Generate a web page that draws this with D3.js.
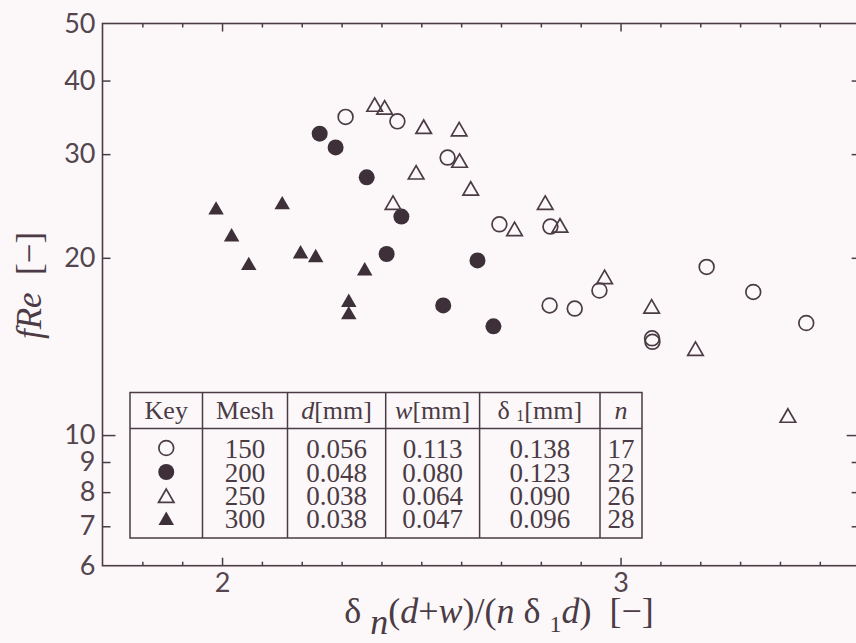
<!DOCTYPE html>
<html>
<head>
<meta charset="utf-8">
<script src="https://cdn.jsdelivr.net/npm/d3@7"></script>
<style>
  html, body { margin: 0; padding: 0; background: #fcf8fa; }
  svg { display: block; }
</style>
</head>
<body>
<svg id="chart" width="856" height="643"></svg>
<script>
// Friction factor fRe against the screen parameter, one series per mesh size
const mesh150 = [
  [2.310, 34.7], [2.440, 34.1], [2.566, 29.6], [2.696, 22.8], [2.824, 22.6],
  [2.822, 16.6], [2.885, 16.4], [2.947, 17.6], [3.216, 19.3], [3.333, 17.5],
  [3.466, 15.5], [3.079, 14.6], [3.080, 14.4]
];
const mesh200 = [
  [2.245, 32.5], [2.285, 30.8], [2.363, 27.4], [2.450, 23.5],
  [2.413, 20.3], [2.641, 19.8], [2.555, 16.6], [2.681, 15.3]
];
const mesh250 = [
  [2.383, 36.1], [2.408, 35.7], [2.506, 33.1], [2.595, 32.8], [2.596, 29.0],
  [2.487, 27.7], [2.624, 26.0], [2.429, 24.6], [2.811, 24.6], [2.734, 22.2],
  [2.848, 22.5], [2.960, 18.4], [3.078, 16.4], [3.188, 13.9], [3.420, 10.7]
];
const mesh300 = [
  [1.985, 24.1], [2.151, 24.6], [2.024, 21.7], [2.067, 19.4], [2.197, 20.3],
  [2.235, 20.0], [2.358, 19.0], [2.318, 16.8], [2.318, 16.0]
];

// Axis ticks
const xMajorTicks = [2, 3];
const xMinorTicks = [1.8, 1.9, 2.1, 2.2, 2.3, 2.4, 2.5, 2.6, 2.7, 2.8, 2.9, 3.1, 3.2, 3.3, 3.4, 3.5];
const yTickLabels = [6, 7, 8, 9, 10, 20, 30, 40, 50];
const yMinorTicks = [7, 8, 9, 20, 30, 40];
const yMajorTicks = [10];

// Screen specification table
const tableMesh = ["150", "200", "250", "300"];
const tableD = ["0.056", "0.048", "0.038", "0.038"];
const tableW = ["0.113", "0.080", "0.064", "0.047"];
const tableDelta1 = ["0.138", "0.123", "0.090", "0.096"];
const tableN = ["17", "22", "26", "28"];

const INK = "#4a3b44";
const FILL = "#3d3039";
const SERIF = "'Liberation Serif', 'Times New Roman', serif";
const SANS = "Lato, 'Open Sans', sans-serif";

const svg = d3.select("#chart");
svg.append("rect").attr("width", 856).attr("height", 643).attr("fill", "#fcf8fa");

const x = d3.scaleLinear().domain([1.7, 3.6]).range([102.5, 859.65]);
const y = d3.scaleLog().domain([6, 50]).range([565.7, 23.5]);

const [x0, x1] = x.range();
const [yb, yt] = y.range();

// Plot frame
svg.append("rect")
  .attr("x", x0).attr("y", yt)
  .attr("width", x1 - x0).attr("height", yb - yt)
  .attr("fill", "none").attr("stroke", INK).attr("stroke-width", 1.6);

function styleAxis(g) {
  g.select(".domain").remove();
  g.selectAll(".tick line").attr("stroke", INK).attr("stroke-width", 1.5);
  g.selectAll(".tick text").attr("fill", "#54454e")
    .style("font-family", SANS).style("font-size", "27px");
}

// Bottom axis: labelled major ticks and short minor ticks
svg.append("g").attr("transform", `translate(0,${yb})`)
  .call(d3.axisBottom(x).tickValues(xMajorTicks).tickSizeInner(-8).tickSizeOuter(0)
    .tickPadding(7).tickFormat(d3.format("d")))
  .call(styleAxis);
svg.append("g").attr("transform", `translate(0,${yb})`)
  .call(d3.axisBottom(x).tickValues(xMinorTicks).tickSizeInner(-4).tickSizeOuter(0).tickFormat(""))
  .call(styleAxis);

// Top axis: mirrored ticks
svg.append("g").attr("transform", `translate(0,${yt})`)
  .call(d3.axisTop(x).tickValues(xMajorTicks).tickSizeInner(-8).tickSizeOuter(0).tickFormat(""))
  .call(styleAxis);
svg.append("g").attr("transform", `translate(0,${yt})`)
  .call(d3.axisTop(x).tickValues(xMinorTicks).tickSizeInner(-4).tickSizeOuter(0).tickFormat(""))
  .call(styleAxis);

// Left axis labels and ticks
svg.append("g").attr("transform", `translate(${x0},0)`)
  .call(d3.axisLeft(y).tickValues(yTickLabels).tickSize(0).tickPadding(7).tickFormat(d3.format("d")))
  .call(styleAxis);
svg.append("g").attr("transform", `translate(${x0},0)`)
  .call(d3.axisLeft(y).tickValues(yMinorTicks).tickSizeInner(-8).tickSizeOuter(0).tickFormat(""))
  .call(styleAxis);
svg.append("g").attr("transform", `translate(${x0},0)`)
  .call(d3.axisLeft(y).tickValues(yMajorTicks).tickSizeInner(-13).tickSizeOuter(0).tickFormat(""))
  .call(styleAxis);

// Right axis ticks
svg.append("g").attr("transform", `translate(${x1},0)`)
  .call(d3.axisRight(y).tickValues(yMinorTicks).tickSizeInner(-8).tickSizeOuter(0).tickFormat(""))
  .call(styleAxis);
svg.append("g").attr("transform", `translate(${x1},0)`)
  .call(d3.axisRight(y).tickValues(yMajorTicks).tickSizeInner(-13).tickSizeOuter(0).tickFormat(""))
  .call(styleAxis);

// Marker styles per series
const triangle = d3.symbol().type(d3.symbolTriangle).size(104);
const markers = {
  openCircle: sel => sel.append("circle").attr("r", 7.4)
    .attr("fill", "none").attr("stroke", INK).attr("stroke-width", 1.7),
  filledCircle: sel => sel.append("circle").attr("r", 8).attr("fill", FILL),
  openTriangle: sel => sel.append("path").attr("d", triangle)
    .attr("fill", "none").attr("stroke", INK).attr("stroke-width", 1.7),
  filledTriangle: sel => sel.append("path").attr("d", triangle).attr("fill", FILL)
};

const series = [
  { data: mesh150, marker: "openCircle" },
  { data: mesh200, marker: "filledCircle" },
  { data: mesh250, marker: "openTriangle" },
  { data: mesh300, marker: "filledTriangle" }
];

const plot = svg.append("g");
series.forEach(s => {
  const g = plot.append("g").selectAll("g").data(s.data).join("g")
    .attr("transform", d => `translate(${x(d[0])},${y(d[1])})`);
  markers[s.marker](g);
});

// Specification table
const table = svg.append("g");
const cols = [130, 202.5, 287.5, 385.7, 479.6, 600, 642];
const tTop = 392.5, tHead = 428.5, tBottom = 538;
table.append("rect").attr("x", cols[0]).attr("y", tTop)
  .attr("width", cols[6] - cols[0]).attr("height", tBottom - tTop)
  .attr("fill", "#fcf8fa").attr("stroke", INK).attr("stroke-width", 1.5);
table.append("line").attr("x1", cols[0]).attr("x2", cols[6])
  .attr("y1", tHead).attr("y2", tHead).attr("stroke", INK).attr("stroke-width", 1.5);
cols.slice(1, 6).forEach(cx => {
  table.append("line").attr("x1", cx).attr("x2", cx).attr("y1", tTop).attr("y2", tBottom)
    .attr("stroke", INK).attr("stroke-width", 1.5);
});

const colMid = i => (cols[i] + cols[i + 1]) / 2;
const headers = [
  [["Key", false]],
  [["Mesh", false]],
  [["d", true], ["[mm]", false]],
  [["w", true], ["[mm]", false]],
  [["δ ", false], ["1", false, "sub"], ["[mm]", false, "up"]],
  [["n", true]]
];
headers.forEach((parts, i) => {
  const t = table.append("text").attr("x", colMid(i)).attr("y", 419)
    .attr("text-anchor", "middle").attr("fill", INK)
    .style("font-family", SERIF).style("font-size", "26px").style("white-space", "pre");
  parts.forEach(([txt, it, shift]) => {
    const ts = t.append("tspan").text(txt).style("font-style", it ? "italic" : "normal");
    if (shift === "sub") ts.attr("dy", 2).style("font-size", "16px");
    if (shift === "up") ts.attr("dy", -2);
  });
});

// Each column's values set as one block of tightly spaced lines
const rowFirst = 458.3, rowStep = 23.3;
[tableMesh, tableD, tableW, tableDelta1, tableN].forEach((col, ci) => {
  table.append("text")
    .attr("text-anchor", "middle").attr("fill", INK)
    .style("font-family", SERIF).style("font-size", "27px")
    .selectAll("tspan").data(col).join("tspan")
    .attr("x", colMid(ci + 1))
    .attr("y", (d, i) => rowFirst + i * rowStep)
    .text(d => d);
});

// Key symbols
const keyCenters = [448, 472, 498, 520.5];
series.forEach((s, i) => {
  const g = table.append("g").attr("transform", `translate(${colMid(0)},${keyCenters[i]})`);
  markers[s.marker](g);
});

// Axis titles
const xTitle = svg.append("text").attr("x", 499).attr("y", 623)
  .attr("text-anchor", "middle").attr("fill", INK)
  .style("font-family", SERIF).style("font-size", "36px").style("white-space", "pre");
[
  ["δ ", "normal", 0], ["n", "italic", 11], ["(", "normal", -11], ["d", "italic", 0],
  ["+", "normal", 0], ["w", "italic", 0], [")/(", "normal", 0], ["n", "italic", 0],
  [" δ ", "normal", 0], ["1", "normal", 9, "24px"], ["d", "italic", -9], [")  [−]", "normal", 0]
].forEach(([txt, st, dy, fs]) => {
  const ts = xTitle.append("tspan").text(txt).style("font-style", st);
  if (dy) ts.attr("dy", dy);
  if (fs) ts.style("font-size", fs);
});

const yTitle = svg.append("text")
  .attr("transform", "translate(41,285.5) rotate(-90)")
  .attr("text-anchor", "middle").attr("fill", INK)
  .style("font-family", SERIF).style("font-size", "35px").style("white-space", "pre");
yTitle.append("tspan").text("fRe").style("font-style", "italic");
yTitle.append("tspan").text("  [−]");
</script>
</body>
</html>
